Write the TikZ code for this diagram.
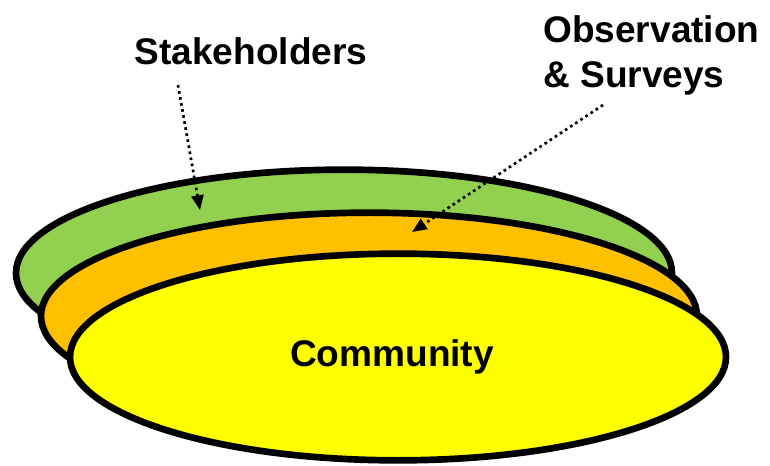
\documentclass[tikz,border=0pt]{standalone}
\usepackage{fontspec}
\setmainfont{Liberation Sans}
\usetikzlibrary{shapes.geometric}
\usetikzlibrary{arrows.meta}

\begin{document}
\begin{tikzpicture}[x=0.75pt,y=-0.75pt,
    layer/.style={ellipse, draw=black, line width=5pt, minimum width=492pt, minimum height=155pt, inner sep=0pt},
    lbl/.style={font=\fontsize{27.8}{33.75}\selectfont\bfseries, inner sep=0pt},
    pointer/.style={line width=2pt, dash pattern=on 2pt off 2.6pt, -{Triangle[length=11pt,width=9pt]}}]
    \useasboundingbox (0,0) rectangle (770,466);

    % the three layers, back to front
    \node[layer, fill={rgb,255:red,146;green,208;blue,80}] (stake) at (344,273) {};
    \node[layer, fill={rgb,255:red,255;green,192;blue,0}] (obs) at (369,316) {};
    \node[layer, fill={rgb,255:red,255;green,255;blue,0}] (comm) at (398,357) {};
    \node[lbl] (commlbl) at (392,357) {Community};

    % labels
    \node[lbl, anchor=base] (stakelbl) at (251,65) {Stakeholders};
    \node[lbl, anchor=base west, align=left] (obslbl) at (543,88) {Observation\\\& Surveys};

    % pointers
    \coordinate (stakefrom) at (178,85);
    \coordinate (staketo) at (200,210);
    \coordinate (obsfrom) at (603,105);
    \coordinate (obsto) at (412,232);
    \draw[pointer] (stakefrom) -- (staketo);
    \draw[pointer] (obsfrom) -- (obsto);
\end{tikzpicture}
\end{document}
